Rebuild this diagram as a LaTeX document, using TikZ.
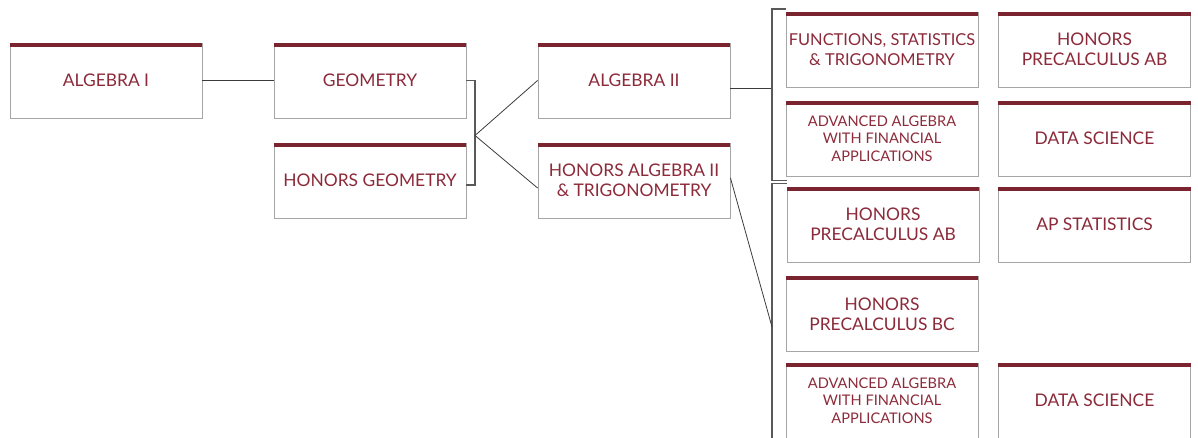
\documentclass[tikz,border=0pt]{standalone}
\usepackage{fontspec}
\setmainfont{Lato}
\definecolor{barc}{HTML}{7A2430}
\definecolor{txtc}{HTML}{8C2A3A}
\definecolor{bordc}{HTML}{A6A6A6}
\definecolor{linec}{HTML}{3C3C3C}
\tikzset{
  cbox/.style={draw=bordc, line width=0.9pt, fill=white, minimum width=192pt, minimum height=75pt,
    inner xsep=0pt, inner ysep=2pt, align=center, text=txtc, font=\fontsize{17.4}{20}\selectfont},
  small/.style={font=\fontsize{14.6}{17.5}\selectfont},
  tight/.style={font=\fontsize{16.4}{20}\selectfont},
  conn/.style={draw=linec, line width=0.8pt},
  brk/.style={draw=linec!85, line width=1.1pt}
}
\begin{document}
\begin{tikzpicture}[x=1pt,y=-1pt]
\useasboundingbox (0,0) rectangle (1198,438);
\node[cbox] (alg1) at (106,80.5) {ALGEBRA I};
\node[cbox] (geo) at (370,80.5) {GEOMETRY};
\node[cbox] (hgeo) at (370,180.5) {HONORS GEOMETRY};
\node[cbox] (alg2) at (634,80.5) {ALGEBRA II};
\node[cbox] (halg2) at (634,180.5) {HONORS ALGEBRA II\\\& TRIGONOMETRY};
\node[cbox,tight] (fst) at (882,49.5) {FUNCTIONS, STATISTICS\\\& TRIGONOMETRY};
\node[cbox] (hpab1) at (1094.5,49.5) {HONORS\\PRECALCULUS AB};
\node[cbox,small] (aaf1) at (882,138.5) {ADVANCED ALGEBRA\\WITH FINANCIAL\\APPLICATIONS};
\node[cbox] (ds1) at (1094.5,138.5) {DATA SCIENCE};
\node[cbox] (hpab2) at (883,224.5) {HONORS\\PRECALCULUS AB};
\node[cbox] (aps) at (1094.5,224.5) {AP STATISTICS};
\node[cbox] (hpbc) at (882,314) {HONORS\\PRECALCULUS BC};
\node[cbox,small] (aaf2) at (882,400.5) {ADVANCED ALGEBRA\\WITH FINANCIAL\\APPLICATIONS};
\node[cbox] (ds2) at (1094.5,400.5) {DATA SCIENCE};
% top bars
\foreach \n in {alg1,geo,hgeo,alg2,halg2,fst,hpab1,aaf1,ds1,hpab2,aps,hpbc,aaf2,ds2}
  \fill[barc] (\n.north west) rectangle ([yshift=-4.2pt]\n.north east);
% connectors
\coordinate (b1) at (475,135.5);
\coordinate (k1t) at (772,9);
\coordinate (k1b) at (772,180.7);
\coordinate (k1m) at (772,88);
\coordinate (k2t) at (772,183.5);
\coordinate (k2b) at (772,438);
\coordinate (k2m) at (772,327);
\draw[conn] (alg1.east) -- (geo.west);
\draw[brk] (geo.east) -| (b1) |- ([yshift=-4.5pt]hgeo.east);
\draw[conn] (b1) -- (alg2.west);
\draw[conn] (b1) -- ([yshift=-7.5pt]halg2.west);
\draw[conn] ([yshift=-7.5pt]alg2.east) -- (k1m);
\draw[brk] (k1t -| fst.west) -- (k1t) -- (k1b) -- (k1b -| hpab2.west);
\draw[brk] (k2t -| hpab2.west) -- (k2t) -- (k2b);
\draw[conn] ([yshift=2.5pt]halg2.east) -- (k2m);
\end{tikzpicture}
\end{document}
